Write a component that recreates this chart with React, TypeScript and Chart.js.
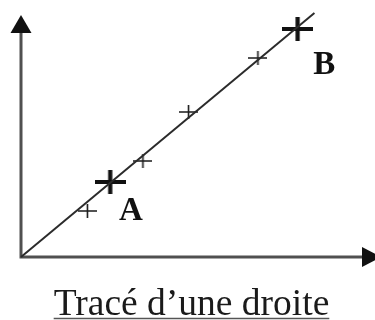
import React, { useEffect, useRef } from "react";
import { Chart, registerables } from "chart.js";

Chart.register(...registerables);

// Data (in drawing units: origin at the axes' corner)
const lineX = [0, 296];
const lineY = [0, 244];
const smallMarkX = [67, 123, 169, 239];
const smallMarkY = [46, 96, 145, 199];
const bigMarkX = [90, 279];
const bigMarkY = [75, 228];
const pointNames = ["A", "B"];
const nameX = [111, 306];
const nameY = [48, 194];
const caption = "Tracé d’une droite";
const xMax = 344;
const yMax = 244;

function makeCross(w: number, h: number, lw: number, color: string): HTMLCanvasElement {
  const c = document.createElement("canvas");
  c.width = w;
  c.height = h;
  const g = c.getContext("2d")!;
  g.strokeStyle = color;
  g.lineWidth = lw;
  g.beginPath();
  g.moveTo(0, h / 2);
  g.lineTo(w, h / 2);
  g.moveTo(w / 2, 0);
  g.lineTo(w / 2, h);
  g.stroke();
  return c;
}

const decorPlugin = {
  id: "decor",
  beforeDatasetsDraw(chart: any) {
    const ctx = chart.ctx as CanvasRenderingContext2D;
    const xs = chart.scales.x;
    const ys = chart.scales.y;
    const area = chart.chartArea;
    const ox = xs.getPixelForValue(0);
    const oy = ys.getPixelForValue(0);
    const tipY = area.top + 2;
    const baseY = tipY + 18;
    const baseX = area.right;
    const tipX = baseX + 19;
    ctx.save();
    ctx.strokeStyle = "#505050";
    ctx.lineWidth = 3;
    ctx.beginPath();
    ctx.moveTo(ox, oy);
    ctx.lineTo(ox, baseY);
    ctx.moveTo(ox - 1.5, oy);
    ctx.lineTo(baseX, oy);
    ctx.stroke();
    ctx.fillStyle = "#111";
    ctx.beginPath();
    ctx.moveTo(ox, tipY);
    ctx.lineTo(ox - 10.5, baseY);
    ctx.lineTo(ox + 10.5, baseY);
    ctx.closePath();
    ctx.fill();
    ctx.beginPath();
    ctx.moveTo(tipX, oy);
    ctx.lineTo(baseX, oy - 10);
    ctx.lineTo(baseX, oy + 10);
    ctx.closePath();
    ctx.fill();
    ctx.restore();
  },
  afterDraw(chart: any) {
    const ctx = chart.ctx as CanvasRenderingContext2D;
    const xs = chart.scales.x;
    const ys = chart.scales.y;
    ctx.save();
    ctx.fillStyle = "#111";
    ctx.font = "bold 33px 'Liberation Serif', 'DejaVu Serif', serif";
    ctx.textAlign = "center";
    ctx.textBaseline = "middle";
    pointNames.forEach((n, i) => {
      ctx.fillText(n, xs.getPixelForValue(nameX[i]), ys.getPixelForValue(nameY[i]) + 2);
    });
    // caption
    ctx.font = "37.5px 'Liberation Serif', 'DejaVu Serif', serif";
    ctx.textBaseline = "alphabetic";
    ctx.fillStyle = "#1a1a1a";
    const cx = 191.5;
    const by = 315;
    ctx.fillText(caption, cx, by);
    const tw = ctx.measureText(caption).width;
    ctx.strokeStyle = "#555";
    ctx.lineWidth = 1.5;
    ctx.beginPath();
    ctx.moveTo(cx - tw / 2, by + 3.5);
    ctx.lineTo(cx + tw / 2, by + 3.5);
    ctx.stroke();
    ctx.restore();
  },
};

export default function App() {
  const ref = useRef<HTMLCanvasElement | null>(null);
  useEffect(() => {
    if (!ref.current) return;
    const small = makeCross(19, 14, 1.6, "#1a1a1a");
    const big = makeCross(31, 24, 4.2, "#111");
    const chart = new Chart(ref.current, {
      type: "scatter",
      data: {
        datasets: [
          {
            data: lineX.map((x, i) => ({ x, y: lineY[i] })),
            showLine: true,
            borderColor: "#2b2b2b",
            borderWidth: 2,
            pointRadius: 0,
            clip: false as any,
          },
          {
            data: smallMarkX.map((x, i) => ({ x, y: smallMarkY[i] })),
            pointStyle: small as any,
            pointRadius: 8,
            showLine: false,
          },
          {
            data: bigMarkX.map((x, i) => ({ x, y: bigMarkY[i] })),
            pointStyle: big as any,
            pointRadius: 12,
            showLine: false,
          },
        ],
      },
      options: {
        animation: false,
        responsive: false,
        maintainAspectRatio: false,
        layout: { padding: { left: 21, top: 13, right: 10, bottom: 63 } },
        scales: {
          x: { type: "linear", min: 0, max: xMax, display: false },
          y: { type: "linear", min: 0, max: yMax, display: false },
        },
        plugins: { legend: { display: false }, tooltip: { enabled: false }, title: { display: false } },
        events: [],
      },
      plugins: [decorPlugin],
    });
    return () => chart.destroy();
  }, []);
  return (
    <div style={{ position: "absolute", left: 0, top: 0, width: 375, height: 320, background: "#fff" }}>
      <canvas ref={ref} width={375} height={320} style={{ display: "block", width: 375, height: 320 }} />
    </div>
  );
}
